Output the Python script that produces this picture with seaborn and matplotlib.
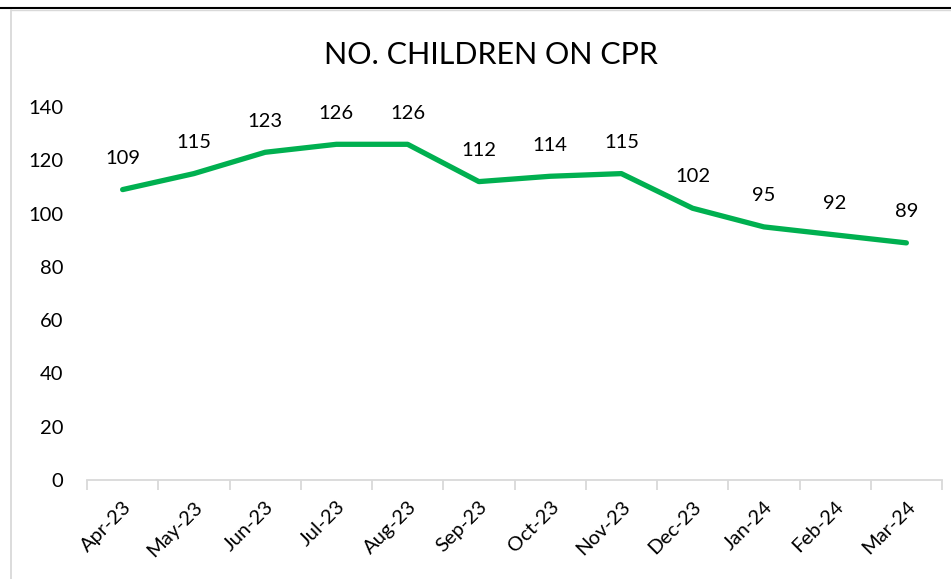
import matplotlib
matplotlib.use("Agg")
import matplotlib.pyplot as plt
from matplotlib.lines import Line2D
from matplotlib.ticker import FixedLocator
import seaborn as sns
import pandas as pd

months = ["Apr-23", "May-23", "Jun-23", "Jul-23", "Aug-23", "Sep-23",
          "Oct-23", "Nov-23", "Dec-23", "Jan-24", "Feb-24", "Mar-24"]
children = [109, 115, 123, 126, 126, 112, 114, 115, 102, 95, 92, 89]
y_ticks = [0, 20, 40, 60, 80, 100, 120, 140]

sns.set_theme(style="white")
plt.rcParams['font.family'] = ['Lato', 'DejaVu Sans']

W, H = 951, 579
fig = plt.figure(figsize=(W / 100, H / 100), dpi=100)
ax = fig.add_axes([87 / W, (H - 480) / H, (942 - 87) / W, (480 - 107) / H])

df = pd.DataFrame({"month": months, "children": children})
df["pos"] = range(len(months))
sns.lineplot(data=df, x="pos", y="children", ax=ax, color="#00B050",
             linewidth=3.8, solid_capstyle="round", solid_joinstyle="round")

for x, v in zip(df["pos"], df["children"]):
    ax.annotate(str(v), (x, v), xytext=(0, 22.5), textcoords="offset points",
                ha="center", va="center", fontsize=14.5, color="#000000")

ax.set_xlim(-0.5, len(months) - 0.5)
ax.set_ylim(0, 140)
ax.set_yticks(y_ticks)
ax.set_yticklabels([str(t) for t in y_ticks], fontsize=14.5, color="#000000")
ax.set_xticks(df["pos"])
ax.set_xticklabels(months, rotation=45, ha="right", rotation_mode="anchor",
                   fontsize=14.5, color="#000000")
ax.xaxis.set_minor_locator(FixedLocator([i - 0.5 for i in range(len(months) + 1)]))
ax.tick_params(axis="x", which="major", length=0, pad=13)
ax.tick_params(axis="x", which="minor", length=7, width=1.3, color="#D9D9D9", bottom=True)
ax.tick_params(axis="y", length=0, pad=17)
ax.set_xlabel("")
ax.set_ylabel("")

for side in ["top", "right", "left"]:
    ax.spines[side].set_visible(False)
ax.spines["bottom"].set_color("#D9D9D9")
ax.spines["bottom"].set_linewidth(1.3)

fig.text(491 / W, (H - 55) / H, "NO. CHILDREN ON CPR", ha="center", va="center",
         fontsize=22, color="#000000")

# chart frame: black cell border on top, light grey chart-area border
fig.add_artist(Line2D([0, 1], [(H - 8) / H] * 2, color="#000000", linewidth=1.5))
fig.add_artist(Line2D([11 / W, 1], [(H - 10) / H] * 2, color="#D9D9D9", linewidth=1.0))
fig.add_artist(Line2D([11 / W] * 2, [0, (H - 10) / H], color="#D9D9D9", linewidth=1.3))

fig.savefig("out.png", dpi=100, facecolor="white")
